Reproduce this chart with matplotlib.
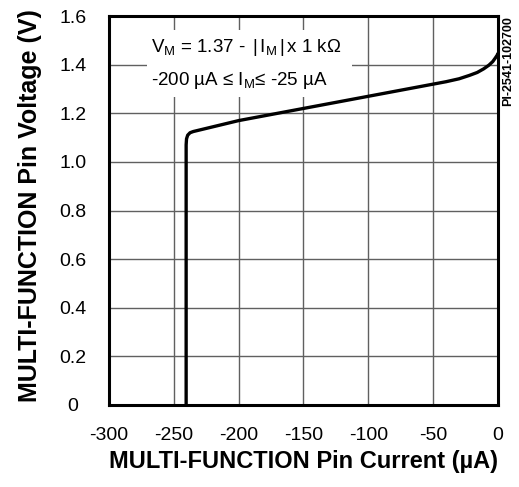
import matplotlib
matplotlib.use("Agg")
import matplotlib.pyplot as plt
from matplotlib.patches import Rectangle

plt.rcParams["font.family"] = ["Liberation Sans", "DejaVu Sans"]
plt.rcParams["mathtext.fontset"] = "custom"
plt.rcParams["mathtext.rm"] = "Liberation Sans"
plt.rcParams["mathtext.it"] = "Liberation Sans"

# Multi-function pin V-I characteristic
current_ua = [-240.5, -240.5, -240.2, -239.3, -237.5, -235.0, -200, -150, -100,
              -60, -50, -40, -30, -22, -16, -11, -7, -4, -2, -0.5, 0]
voltage_v = [0.0, 1.07, 1.095, 1.11, 1.12, 1.125, 1.17, 1.22, 1.27,
             1.31, 1.32, 1.33, 1.342, 1.356, 1.368, 1.383, 1.398, 1.413, 1.428, 1.44, 1.448]

x_ticks = [-300, -250, -200, -150, -100, -50, 0]
x_tick_labels = ["-300", "-250", "-200", "-150", "-100", "-50", "0"]
y_ticks = [0, 0.2, 0.4, 0.6, 0.8, 1.0, 1.2, 1.4, 1.6]
y_tick_labels = ["0", "0.2", "0.4", "0.6", "0.8", "1.0", "1.2", "1.4", "1.6"]

fig = plt.figure(figsize=(5.19, 4.87), dpi=100)
ax = fig.add_axes([0.210, 0.1684, 0.7495, 0.7986])

ax.set_xlim(-300, 0)
ax.set_ylim(0, 1.6)
ax.set_xticks(x_ticks)
ax.set_xticklabels(x_tick_labels)
ax.set_yticks(y_ticks)
ax.set_yticklabels(y_tick_labels)
ax.grid(True, color="#606060", linewidth=1.0, zorder=1)
ax.set_axisbelow(True)
ax.tick_params(axis="both", length=0, labelsize=14)
ax.tick_params(axis="x", pad=16)
ax.tick_params(axis="y", pad=26)
for lbl in ax.get_yticklabels():
    lbl.set_horizontalalignment("center")

for sp in ax.spines.values():
    sp.set_linewidth(2.2)
    sp.set_color("black")
    sp.set_zorder(5)

# white panel behind the equation
ax.add_patch(Rectangle((0.098, 0.792), 0.527, 0.172, transform=ax.transAxes,
                       facecolor="white", edgecolor="none", zorder=2))

ax.plot(current_ua, voltage_v, color="black", linewidth=2.4,
        solid_joinstyle="round", solid_capstyle="butt", zorder=3)

ax.text(0.108, 0.907, r"V$_\mathregular{M}$ = 1.37 - $\,|\,$I$_\mathregular{M}\,|\,$x 1 kΩ",
        transform=ax.transAxes, fontsize=13.5, ha="left", va="baseline", zorder=4)
ax.text(0.108, 0.823, r"-200 µA ≤ I$_\mathregular{M}$≤ -25 µA",
        transform=ax.transAxes, fontsize=13.5, ha="left", va="baseline", zorder=4)

fig.text(0.5855, 0.038, "MULTI-FUNCTION Pin Current (µA)", fontsize=17,
         fontweight="bold", ha="center", va="baseline")
fig.text(0.058, 0.577, "MULTI-FUNCTION Pin Voltage (V)", fontsize=18,
         fontweight="bold", ha="center", va="center", rotation=90)
fig.text(0.9785, 0.966, "PI-2541-102700", fontsize=9, fontweight="bold",
         ha="center", va="top", rotation=90)

fig.savefig("out.png", dpi=100)
